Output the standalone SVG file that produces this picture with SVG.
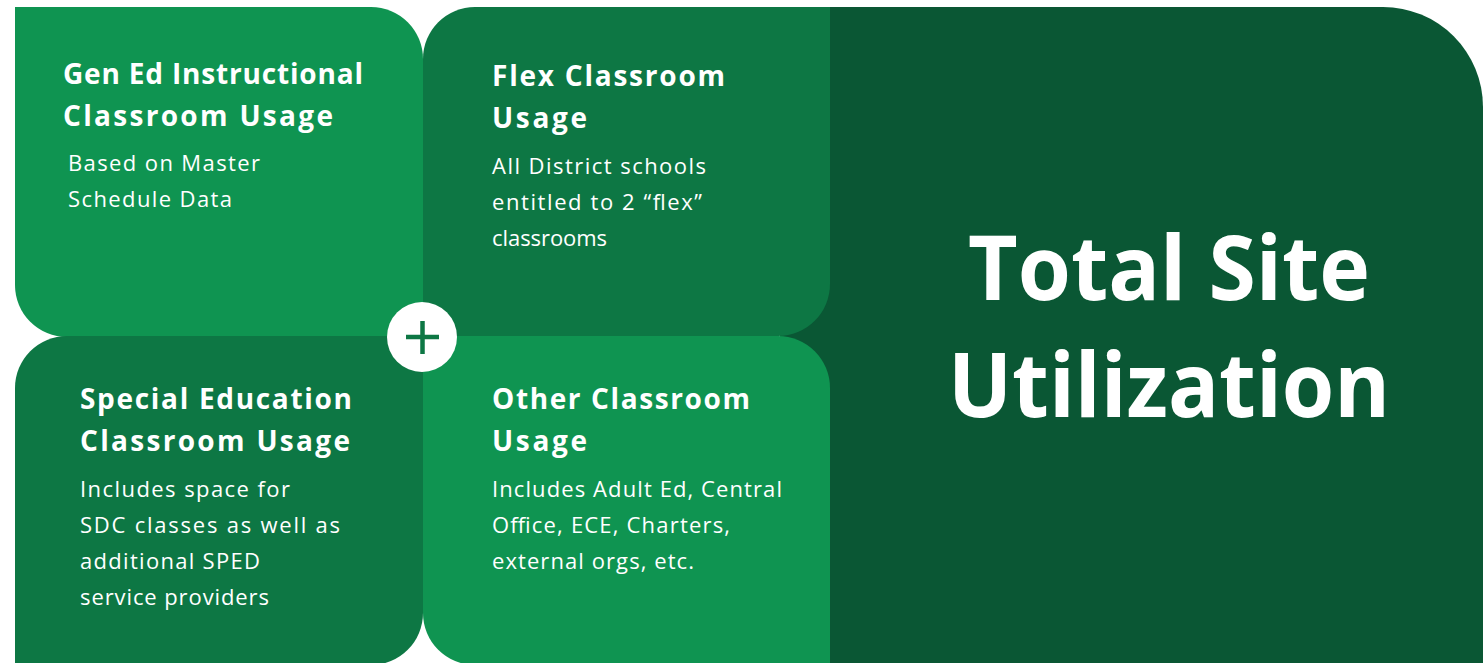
<svg xmlns="http://www.w3.org/2000/svg" width="1483" height="663" viewBox="0 0 1483 663">
  <style>
    .light { fill: #0f9451; }
    .mid { fill: #0d7744; }
    .dark { fill: #0a5734; }
    .h { font-family: "Open Sans", "Liberation Sans", sans-serif; font-weight: 700; font-size: 28px; fill: #ffffff; }
    .b { font-family: "Open Sans", "Liberation Sans", sans-serif; font-weight: 400; font-size: 22px; fill: #ffffff; }
    .big { font-family: "Open Sans", "Liberation Sans", sans-serif; font-weight: 700; font-size: 90px; fill: #ffffff; }
  </style>
  <rect width="1483" height="663" fill="#ffffff"/>
  <g id="total-site-utilization">
    <path class="dark" d="M780,7 H1383 A100,100 0 0 1 1483,107 V663 H780 Z"/>
    <text class="big" x="968" y="300" textLength="402" lengthAdjust="spacingAndGlyphs">Total Site</text>
    <text class="big" x="948" y="417" textLength="442" lengthAdjust="spacingAndGlyphs">Utilization</text>
  </g>
  <g id="gen-ed">
    <path class="light" d="M15,7 H371 A52,52 0 0 1 423,59 V337 H67 A52,52 0 0 1 15,285 Z"/>
    <text class="h" x="63" y="84" textLength="300" lengthAdjust="spacing">Gen Ed Instructional</text>
    <text class="h" x="63" y="126" textLength="270" lengthAdjust="spacing">Classroom Usage</text>
    <text class="b" x="68" y="171" textLength="192" lengthAdjust="spacing">Based on Master</text>
    <text class="b" x="68" y="207" textLength="164" lengthAdjust="spacing">Schedule Data</text>
  </g>
  <g id="flex">
    <path class="mid" d="M475,7 H830 V284 A52,52 0 0 1 778,336 H423 V59 A52,52 0 0 1 475,7 Z"/>
    <text class="h" x="492" y="86" textLength="233" lengthAdjust="spacing">Flex Classroom</text>
    <text class="h" x="492" y="128" textLength="95" lengthAdjust="spacing">Usage</text>
    <text class="b" x="492" y="174" textLength="214" lengthAdjust="spacing">All District schools</text>
    <text class="b" x="492" y="210" textLength="210" lengthAdjust="spacing">entitled to 2 “flex”</text>
    <text class="b" x="492" y="246" textLength="115" lengthAdjust="spacing">classrooms</text>
  </g>
  <g id="special-ed">
    <path class="mid" d="M67,336 H423 V613 A52,52 0 0 1 371,665 H15 V388 A52,52 0 0 1 67,336 Z"/>
    <text class="h" x="80" y="409" textLength="272" lengthAdjust="spacing">Special Education</text>
    <text class="h" x="80" y="451" textLength="270" lengthAdjust="spacing">Classroom Usage</text>
    <text class="b" x="80" y="497" textLength="210" lengthAdjust="spacing">Includes space for</text>
    <text class="b" x="80" y="533" textLength="260" lengthAdjust="spacing">SDC classes as well as</text>
    <text class="b" x="80" y="569" textLength="180" lengthAdjust="spacing">additional SPED</text>
    <text class="b" x="80" y="605" textLength="189" lengthAdjust="spacing">service providers</text>
  </g>
  <g id="other">
    <path class="light" d="M423,336 H778 A52,52 0 0 1 830,388 V665 H475 A52,52 0 0 1 423,613 Z"/>
    <text class="h" x="492" y="409" textLength="258" lengthAdjust="spacing">Other Classroom</text>
    <text class="h" x="492" y="451" textLength="95" lengthAdjust="spacing">Usage</text>
    <text class="b" x="492" y="497" textLength="290" lengthAdjust="spacing">Includes Adult Ed, Central</text>
    <text class="b" x="492" y="533" textLength="238" lengthAdjust="spacing">Office, ECE, Charters,</text>
    <text class="b" x="492" y="569" textLength="202" lengthAdjust="spacing">external orgs, etc.</text>
  </g>
  <g id="plus">
    <circle cx="422" cy="337" r="35" fill="#ffffff"/>
    <path d="M406,337 H439 M422.5,321 V354" stroke="#0d7744" stroke-width="4.5" fill="none"/>
  </g>
</svg>
